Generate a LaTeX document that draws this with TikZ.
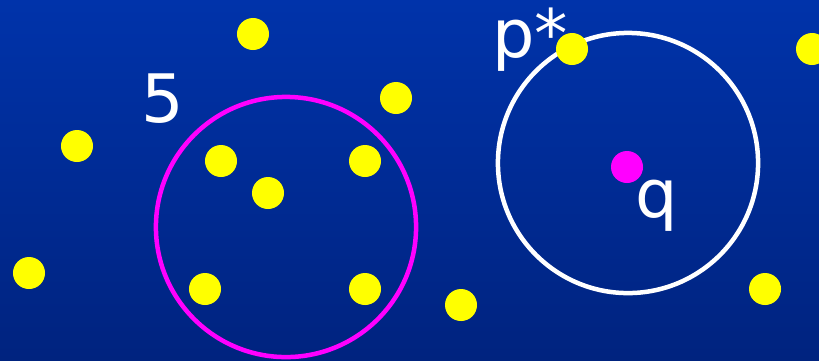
\documentclass[tikz,border=0pt]{standalone}
\usepackage{fontspec}
\setmainfont{DejaVu Sans}
\definecolor{bgTop}{HTML}{0033AA}
\definecolor{bgBottom}{HTML}{00237F}
\definecolor{ptYellow}{HTML}{FFFF00}
\definecolor{qMagenta}{HTML}{FF00FF}
\tikzset{
  pt/.style={circle,fill=ptYellow,inner sep=0pt,minimum size=0.32cm},
  qpt/.style={circle,fill=qMagenta,inner sep=0pt,minimum size=0.32cm},
  ring/.style={circle,draw,line width=0.045cm,inner sep=0pt,minimum size=2.6cm},
  lbl/.style={text=white,font=\fontsize{19}{23}\selectfont,anchor=base,inner sep=0pt}
}
\begin{document}
\begin{tikzpicture}[x=0.01cm,y=-0.01cm]
\shade[top color=bgTop,bottom color=bgBottom] (0,0) rectangle (819,360);
\useasboundingbox (0,0) rectangle (819,360);
% points
\node[pt] (p1) at (253,34) {};
\node[pt] (p2) at (396,98) {};
\node[pt] (p3) at (77,146) {};
\node[pt] (p4) at (221,161) {};
\node[pt] (p5) at (365,161) {};
\node[pt] (p6) at (268,193) {};
\node[pt] (p7) at (29,273) {};
\node[pt] (p8) at (205,289) {};
\node[pt] (p9) at (365,289) {};
\node[pt] (p10) at (461,305) {};
\node[pt] (p11) at (812,49) {};
\node[pt] (p12) at (765,289) {};
% query and its neighbour
\node[ring,white] (rq) at (628,163) {};
\node[pt] (pstar) at (572,49) {};
\node[qpt] (q) at (627,167) {};
\node[ring,qMagenta] (r5) at (286,227) {};
% labels
\node[lbl] (l5) at (163,122) {5};
\node[lbl] (lp) at (530,57) {p*};
\node[lbl] (lq) at (657,217) {q};
\end{tikzpicture}
\end{document}
